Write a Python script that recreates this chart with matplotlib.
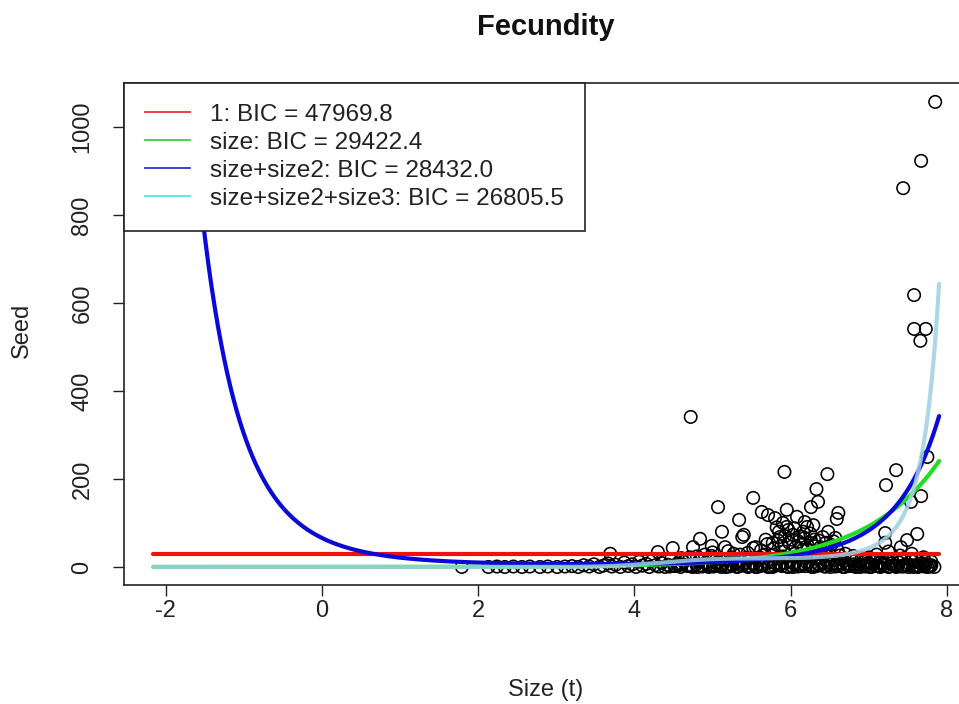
import numpy as np
import matplotlib
matplotlib.use("Agg")
import matplotlib.pyplot as plt
from matplotlib.lines import Line2D

# ---------------- data ----------------
# scattered observations: Size (t) vs Seed
size_x = [
    # high outliers
    7.85, 7.67, 7.44, 7.58, 7.58, 7.73, 7.66, 4.72,
    7.75, 7.35, 7.22, 7.67, 7.54, 5.92, 6.47, 5.52, 5.07, 6.33, 6.35, 6.26,
    5.34, 5.63, 5.71, 5.80, 5.95, 6.08, 6.61, 6.59, 5.12, 5.38, 5.40, 4.84,
    4.49, 4.99, 7.62, 7.49, 7.41, 7.21, 7.21, 6.57, 5.90, 5.95, 6.21, 6.29,
    6.16, 6.03, 6.41, 5.86, 5.77, 6.38, 5.52, 5.16, 4.75, 4.30, 3.69,
    # isolated low values on the left
    1.79, 2.13, 2.24, 2.34, 2.45, 2.56, 2.66, 2.79, 2.89, 3.01, 3.11,
    # dense band near zero
    3.20, 3.28, 3.35, 3.42, 3.48, 3.55, 3.60, 3.66, 3.71, 3.76, 3.82, 3.87,
    3.92, 3.97, 4.02, 4.06, 4.10, 4.15, 4.19, 4.23, 4.27, 4.31, 4.35, 4.39,
    4.43, 4.47, 4.51, 4.55, 4.59, 4.63, 4.67, 4.71, 4.75, 4.79, 4.83, 4.87,
    4.91, 4.95, 4.99, 5.03, 5.07, 5.11, 5.15, 5.19, 5.23, 5.27, 5.31, 5.35,
    5.39, 5.43, 5.47, 5.51, 5.55, 5.59, 5.63, 5.67, 5.71, 5.75, 5.79, 5.83,
    5.87, 5.91, 5.95, 5.99, 6.03, 6.07, 6.11, 6.15, 6.19, 6.23, 6.27, 6.31,
    6.35, 6.39, 6.43, 6.47, 6.51, 6.55, 6.59, 6.63, 6.67, 6.71, 6.75, 6.79,
    6.83, 6.87, 6.91, 6.95, 6.99, 7.03, 7.07, 7.11, 7.15, 7.19, 7.23, 7.27,
    7.31, 7.35, 7.39, 7.43, 7.47, 7.51, 7.55, 7.59, 7.63, 7.67, 7.71, 7.75,
    7.80, 7.84,
    4.52, 4.61, 4.73, 4.85, 4.97, 5.05, 5.13, 5.21, 5.29, 5.37, 5.45, 5.53,
    5.61, 5.69, 5.77, 5.85, 5.93, 6.01, 6.09, 6.17, 6.25, 6.33, 6.41, 6.49,
    6.57, 6.65, 6.73, 6.81, 6.89, 6.97, 7.05, 7.13, 7.21, 7.29, 7.37, 7.45,
    7.53, 7.61, 7.69, 7.77,
    4.45, 4.57, 4.69, 4.81, 4.93, 5.01, 5.09, 5.17, 5.25, 5.33, 5.41, 5.49,
    5.57, 5.65, 5.73, 5.81, 5.89, 5.97, 6.05, 6.13, 6.21, 6.29, 6.37, 6.45,
    6.53, 6.61, 6.69, 6.77, 6.85, 6.93, 7.01, 7.09, 7.17, 7.25, 7.33, 7.41,
    7.49, 7.57, 7.65, 7.73, 7.79,
    6.95, 7.05, 7.15, 7.30, 7.45, 7.60, 7.72, 5.60, 5.75, 5.90, 6.05, 6.20,
    6.35, 6.50, 6.65, 4.60, 4.80, 5.05, 5.25,
    # middle layer of the cluster
    5.55, 5.62, 5.70, 5.78, 5.84, 5.88, 5.93, 5.98, 6.02, 6.06, 6.10, 6.14,
    6.18, 6.22, 6.27, 6.31, 6.36, 6.44, 6.52, 6.60, 6.70, 5.45, 5.35, 5.20,
    5.00, 4.90, 6.80, 7.00, 7.10, 7.25, 7.40, 7.55, 7.70, 7.80,
    5.85, 5.97, 6.12, 6.25, 6.30, 6.45, 6.05, 5.82, 6.18, 5.68, 6.55, 6.48,
]
seed_y = [
    1057, 923, 861, 618, 541, 541, 514, 341,
    250, 220, 186, 161, 148, 216, 211, 157, 136, 177, 148, 136,
    107, 125, 118, 111, 130, 114, 123, 109, 80, 68, 73, 64,
    43, 48, 75, 61, 45, 77, 55, 66, 100, 91, 91, 95,
    80, 73, 68, 68, 55, 45, 43, 45, 45, 34, 30,
    0, 0, 1, 0, 1, 0, 1, 0, 1, 0, 1,
    2, 0, 4, 1, 6, 0, 3, 8, 1, 5, 0, 10,
    2, 6, 0, 12, 3, 7, 0, 15, 4, 1, 9, 0,
    5, 18, 2, 8, 0, 12, 3, 22, 0, 6, 14, 1,
    9, 0, 25, 4, 11, 0, 17, 2, 7, 30, 0, 13,
    5, 21, 1, 9, 0, 16, 4, 28, 0, 11, 3, 20,
    7, 35, 1, 14, 0, 24, 5, 38, 2, 12, 0, 19,
    6, 30, 1, 10, 0, 16, 4, 26, 0, 8, 2, 14,
    0, 5, 20, 1, 9, 0, 12, 3, 0, 7, 16, 1,
    4, 0, 10, 2, 6, 0, 13, 3, 0, 8, 1, 0,
    4, 0,
    3, 6, 1, 4, 2, 8, 5, 1, 10, 3, 0, 6,
    2, 12, 0, 4, 9, 3, 1, 7, 4, 2, 11, 5,
    1, 9, 3, 6, 0, 3, 5, 1, 3, 8, 2, 1,
    5, 2, 4, 2,
    1, 4, 2, 0, 5, 1, 3, 0, 4, 1, 7, 2,
    0, 5, 1, 8, 2, 0, 6, 2, 9, 0, 4, 1,
    7, 2, 0, 5, 1, 4, 0, 2, 5, 0, 3, 1,
    4, 0, 2, 6, 1,
    12, 18, 10, 14, 20, 16, 12, 22, 26, 24, 30, 26,
    22, 28, 18, 20, 24, 18, 22,
    45, 38, 52, 42, 60, 48, 70, 55, 62, 44, 58, 50,
    66, 40, 54, 47, 60, 42, 50, 38, 30, 32, 28, 36,
    33, 28, 25, 22, 28, 35, 26, 30, 22, 12,
    80, 84, 70, 76, 62, 55, 88, 90, 102, 62, 58, 80,
]

# fitted models (log-link coefficients: intercept, size, size^2, size^3)
model_labels = ["1: BIC = 47969.8", "size: BIC = 29422.4",
                "size+size2: BIC = 28432.0", "size+size2+size3: BIC = 26805.5"]
coef_m1 = [3.418]
coef_m2 = [-2.89, 1.06]
coef_m3 = [4.187, -1.330, 0.1948]
coef_m4 = [-50.90, 28.578, -5.058, 0.2987]
fit_range = [-2.16, 7.90]

curve_colors = ["#ee1111", "#22dd22", "#0a0ad8", "#9fd0e2"]
legend_colors = ["#e8303a", "#40d040", "#3030d0", "#50e8e8"]

x_ticks = [-2, 0, 2, 4, 6, 8]
y_ticks = [0, 200, 400, 600, 800, 1000]

# ---------------- plot ----------------
plt.rcParams["font.family"] = ["Liberation Sans", "DejaVu Sans"]

W, H = 959, 704
fig = plt.figure(figsize=(W / 100, H / 100), dpi=100)
ax = fig.add_axes([124 / W, 1 - 585 / H, 844 / W, 502 / H])

ax.scatter(size_x, seed_y, s=80, facecolors="none", edgecolors="black",
           linewidths=1.15, zorder=2)

xs = np.linspace(fit_range[0], fit_range[1], 500)
coefs = [coef_m1, coef_m2, coef_m3, coef_m4]
alphas = [1.0, 1.0, 1.0, 0.85]
for c, col, a in zip(coefs, curve_colors, alphas):
    ys = np.exp(np.polyval(c[::-1], xs)) * np.ones_like(xs)
    ax.plot(xs, ys, color=col, lw=3.0, alpha=a, solid_capstyle="round", zorder=3)

ax.set_xlim(-2.535, 8.27)
ax.set_ylim(-41, 1100)
ax.set_xticks(x_ticks)
ax.set_yticks(y_ticks)
ax.set_xticklabels([str(v) for v in x_ticks])
ax.set_yticklabels([str(v) for v in y_ticks])
for sp in ax.spines.values():
    sp.set_linewidth(1.2)
    sp.set_color("#222222")
ax.tick_params(axis="both", direction="out", length=8, width=1.0,
               labelsize=17, colors="#222222", labelcolor="#222222")
ax.tick_params(axis="x", pad=3)
ax.tick_params(axis="y", pad=14)
for lab in ax.get_yticklabels():
    lab.set_rotation(90)
    lab.set_va("center")
    lab.set_ha("right")

handles = [Line2D([], [], color=c, lw=1.3) for c in legend_colors]
leg = ax.legend(handles, model_labels, loc="upper left", bbox_to_anchor=(0, 1),
                borderaxespad=0, frameon=True, fancybox=False,
                edgecolor="#222222", framealpha=1, fontsize=17.5,
                handlelength=1.85, handletextpad=0.85, borderpad=0.85,
                labelspacing=0.25)
leg.get_frame().set_linewidth(1.2)
for t in leg.get_texts():
    t.set_color("#222222")

fig.text(546 / W, 1 - 27 / H, "Fecundity", ha="center", va="center",
         fontsize=21, fontweight="bold", color="#111111")
fig.text(546 / W, 1 - 690 / H, "Size (t)", ha="center", va="center",
         fontsize=17, color="#222222")
fig.text(22 / W, 1 - 330 / H, "Seed", ha="center", va="center",
         rotation=90, fontsize=17, color="#222222")

fig.savefig("out.png", dpi=100)
